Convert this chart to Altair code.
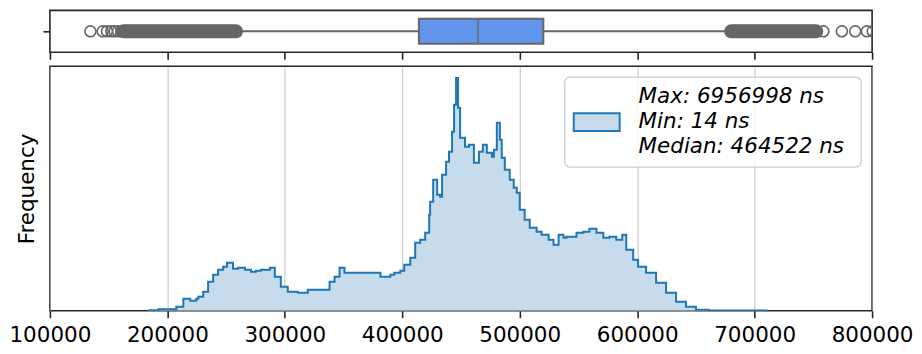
import altair as alt
import pandas as pd

FONT = "DejaVu Sans"

# ---- histogram (step outline): left edges in ns and counts ----
hist_edges = [
    183900, 192400, 200800, 207600, 213600, 219500, 224600, 226300, 230500, 234700,
    239000, 243200, 247500, 250800, 255900, 260200, 266100, 271200, 275400, 279700,
    283900, 287300, 291500, 296600, 302500, 311000, 319500, 328000, 334700, 338100,
    342400, 346600, 350800, 359300, 370300, 381400, 389800, 393200, 398300, 401700,
    406800, 411000, 415300, 419500, 422900, 423700, 426300, 429700, 432200, 433900,
    437300, 439800, 442400, 444100, 445800, 447500, 449200, 453400, 456800, 461000,
    465300, 468600, 472000, 476300, 478000, 480500, 483100, 484700, 487300, 491500,
    494900, 497500, 500000, 501700, 504200, 508500, 514400, 518600, 524600, 528800,
    533100, 537300, 539800, 548300, 554200, 559300, 565300, 571200, 576300, 582200,
    587300, 590700, 596600, 600800, 607600, 616100, 624600, 633100, 641500, 650000,
    661000, 675400, 710000,
]
hist_counts = [
    5, 15, 15, 40, 120, 100, 120, 140, 190, 290,
    360, 410, 440, 480, 420, 430, 410, 390, 400, 410,
    410, 430, 340, 240, 190, 180, 210, 210, 210, 290,
    340, 430, 380, 380, 380, 340, 360, 380, 400, 460,
    530, 680, 710, 780, 960, 1090, 1310, 1160, 1140, 1360,
    1490, 1590, 1790, 2060, 2330, 2030, 1730, 1640, 1660, 1480,
    1590, 1660, 1580, 1540, 1610, 1880, 1710, 1530, 1410, 1310,
    1230, 1180, 1010, 1010, 910, 830, 790, 760, 710, 660,
    760, 730, 740, 780, 790, 820, 780, 730, 740, 710,
    760, 610, 510, 440, 380, 280, 180, 90, 40, 10,
    3, 3, 0,
]

# ---- summary statistics (legend text) ----
stat_names = ["Max", "Min", "Median"]
stat_values = [6956998, 14, 464522]
stat_unit = "ns"

# ---- box plot summary ----
box_lower_whisker = 256000
box_q1 = 414150
box_median = 464522
box_q3 = 520100
box_upper_whisker = 678500

# individual outliers and dense outlier runs (start, end)
outliers_single = [134500, 144900, 148600, 152300, 155100, 157900, 160800,
                   758500, 774300, 785600, 795500, 800500]
outlier_runs_start = [162700, 680000]
outlier_runs_end = [258500, 752500]

x_ticks = [100000, 200000, 300000, 400000, 500000, 600000, 700000, 800000]
x_domain = [100000, 800000]

# ---------------- data frames ----------------
label = "|".join(f"{n}: {v} {stat_unit}" for n, v in zip(stat_names, stat_values))
hist_df = pd.DataFrame({"edge": hist_edges, "count": hist_counts})
legend_df = pd.DataFrame({"label": [label]})
y_max = max(hist_counts) * 1.05

box_df = pd.DataFrame({"g": [""], "lw": [box_lower_whisker], "q1": [box_q1],
                       "med": [box_median], "q3": [box_q3], "uw": [box_upper_whisker]})
out_df = pd.DataFrame({"g": "", "v": outliers_single})
runs_df = pd.DataFrame({"g": "", "s": outlier_runs_start, "e": outlier_runs_end})

GRAY = "#666666"
FRAME = "#262626"
BLUE = "#1f77b4"
FILL = "#c6dbec"
FS = 21.5
W = 824
xscale = alt.Scale(domain=x_domain, nice=False, zero=False)

top_x_axis = alt.Axis(values=x_ticks, labels=False, title=None, tickSize=7, grid=False,
                      domain=False, tickColor=FRAME, tickWidth=1.6)
top_y = alt.Y("g:N", axis=alt.Axis(labels=False, title=None, ticks=True, tickSize=7,
                                   domain=False, grid=False, tickColor=FRAME, tickWidth=1.6))

base_box = alt.Chart(box_df)
whisk_lo = base_box.mark_rule(color=GRAY, strokeWidth=2).encode(
    x=alt.X("lw:Q", scale=xscale, axis=top_x_axis), x2="q1:Q", y=top_y)
whisk_hi = base_box.mark_rule(color=GRAY, strokeWidth=2).encode(
    x=alt.X("q3:Q", scale=xscale), x2="uw:Q", y=top_y)
box = base_box.mark_bar(size=25, color="#6495ed", stroke=GRAY, strokeWidth=2).encode(
    x=alt.X("q1:Q", scale=xscale), x2="q3:Q", y=top_y)
med = base_box.mark_tick(orient="vertical", size=25, thickness=2, color=GRAY).encode(
    x=alt.X("med:Q", scale=xscale), y=top_y)
runs = alt.Chart(runs_df).mark_rule(color=GRAY, strokeWidth=14, strokeCap="round", clip=True).encode(
    x=alt.X("s:Q", scale=xscale), x2="e:Q", y=top_y)
outs = alt.Chart(out_df).mark_point(shape="circle", filled=False, color=GRAY, size=120,
                                    strokeWidth=1.6, opacity=1, clip=True).encode(
    x=alt.X("v:Q", scale=xscale), y=top_y)

top = alt.layer(whisk_lo, whisk_hi, runs, outs, box, med).properties(width=W, height=42)

area = alt.Chart(hist_df).mark_area(interpolate="step-after", color=FILL, opacity=1,
                                    line={"color": BLUE, "strokeWidth": 2}, clip=True).encode(
    x=alt.X("edge:Q", scale=xscale,
            axis=alt.Axis(values=x_ticks, format="d", title=None, tickSize=7, domain=False,
                          grid=True, gridColor="#b0b0b0", gridOpacity=0.6, gridWidth=1.3,
                          tickColor=FRAME, tickWidth=1.6, labelPadding=7, labelOverlap=False,
                          labelFlush=False,
                          labelFont=FONT, labelFontSize=FS, labelColor="black")),
    y=alt.Y("count:Q", scale=alt.Scale(domain=[0, y_max], nice=False),
            axis=alt.Axis(title="Frequency", labels=False, ticks=False, domain=False, grid=False,
                          titleFont=FONT, titleFontSize=FS, titleFontWeight="normal",
                          titleColor="black", titlePadding=11)),
)

# legend box (drawn in the plot's top-right corner)
leg = alt.Chart(legend_df)
leg_frame = leg.mark_rect(fill="white", fillOpacity=0.8, stroke="#cccccc", strokeWidth=1.3,
                          cornerRadius=5).encode(
    x=alt.value(W - 308), x2=alt.value(W - 11), y=alt.value(11), y2=alt.value(101))
leg_sym = leg.mark_rect(fill=FILL, stroke=BLUE, strokeWidth=2).encode(
    x=alt.value(W - 299), x2=alt.value(W - 253), y=alt.value(47), y2=alt.value(65))
leg_text = leg.mark_text(align="left", baseline="alphabetic", lineBreak="|", lineHeight=25,
                         font=FONT, fontSize=FS, fontStyle="italic", color="black").encode(
    x=alt.value(W - 234), y=alt.value(37), text="label:N")

bottom = alt.layer(area, leg_frame, leg_sym, leg_text).properties(width=W, height=245)

chart = alt.vconcat(top, bottom, spacing=14, bounds="flush").properties(
    padding={"left": 0, "top": 1, "right": 0, "bottom": 0}
).configure(font=FONT).configure_view(stroke=FRAME, strokeWidth=1.6)

chart.save("out.html", embed_options={"renderer": "svg", "actions": False})
